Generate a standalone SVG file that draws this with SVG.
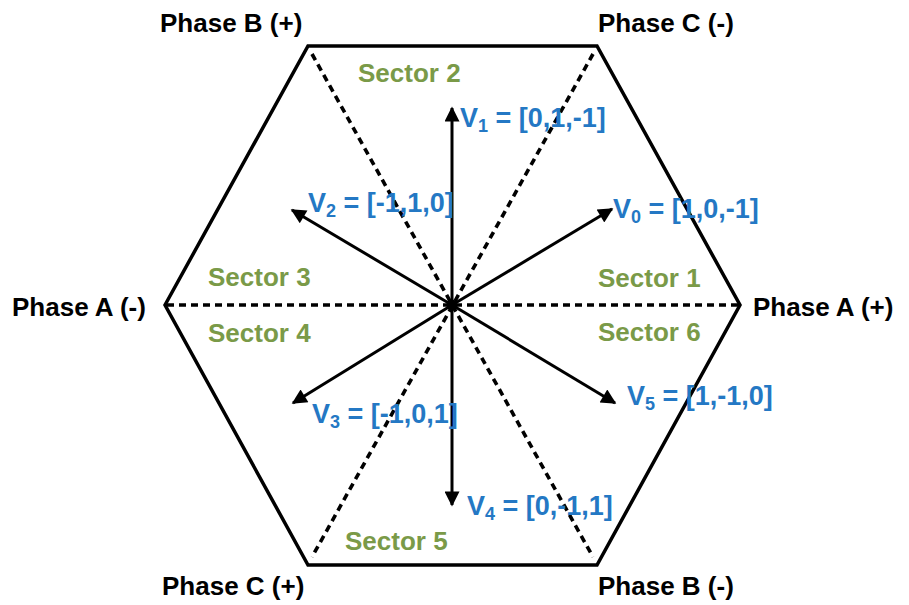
<svg xmlns="http://www.w3.org/2000/svg" width="909" height="605" viewBox="0 0 909 605">
<defs>
<marker id="ah" viewBox="0 0 10 10" refX="9" refY="5" markerWidth="6" markerHeight="5" markerUnits="strokeWidth" orient="auto">
<path d="M0,0 L10,5 L0,10 z" fill="#000"/>
</marker>
<style>
.hex{fill:none;stroke:#000;stroke-width:3.5;stroke-linejoin:miter}
.dash{fill:none;stroke:#000;stroke-width:3.6;stroke-dasharray:7 5}
.vec{stroke:#000;stroke-width:3;marker-end:url(#ah)}
.phase{font-family:"Liberation Sans",Arial,sans-serif;font-weight:bold;font-size:26px;fill:#000}
.sector{font-family:"Liberation Sans",Arial,sans-serif;font-weight:bold;font-size:26px;fill:#7A9A48}
.vl{font-family:"Liberation Sans",Arial,sans-serif;font-weight:bold;font-size:27px;fill:#2478C4}
.sub{font-size:18px}
</style>
</defs>
<rect width="909" height="605" fill="#fff"/>
<g id="hexagon">
<polygon class="hex" points="165,305 308,46 597,46 740,305 597,565 308,565"/>
</g>
<g id="connectors">
<line class="dash" x1="167" y1="305" x2="738" y2="305"/>
<line class="dash" x1="312" y1="54" x2="593" y2="557"/>
<line class="dash" x1="593" y1="54" x2="312" y2="557"/>
<line class="vec" x1="452" y1="305" x2="452" y2="108"/>
<line class="vec" x1="452" y1="305" x2="452" y2="505"/>
<line class="vec" x1="452" y1="305" x2="612" y2="209"/>
<line class="vec" x1="452" y1="305" x2="292" y2="210"/>
<line class="vec" x1="452" y1="305" x2="293" y2="403"/>
<line class="vec" x1="452" y1="305" x2="615" y2="403"/>
<circle cx="452" cy="305" r="5.5" fill="#000"/>
</g>
<g id="phase-labels">
<text class="phase" x="160" y="32">Phase B (+)</text>
<text class="phase" x="598" y="32">Phase C (-)</text>
<text class="phase" x="12" y="316">Phase A (-)</text>
<text class="phase" x="753" y="316">Phase A (+)</text>
<text class="phase" x="162" y="595">Phase C (+)</text>
<text class="phase" x="598" y="595">Phase B (-)</text>
</g>
<g id="sector-labels">
<text class="sector" x="358" y="82">Sector 2</text>
<text class="sector" x="208" y="286">Sector 3</text>
<text class="sector" x="208" y="342">Sector 4</text>
<text class="sector" x="598" y="287">Sector 1</text>
<text class="sector" x="598" y="341">Sector 6</text>
<text class="sector" x="345" y="550">Sector 5</text>
</g>
<g id="vector-labels">
<text class="vl" x="460" y="127">V<tspan class="sub" dy="5">1</tspan><tspan dy="-5"> = [0,1,-1]</tspan></text>
<text class="vl" x="308" y="212">V<tspan class="sub" dy="5">2</tspan><tspan dy="-5"> = [-1,1,0]</tspan></text>
<text class="vl" x="613" y="218">V<tspan class="sub" dy="5">0</tspan><tspan dy="-5"> = [1,0,-1]</tspan></text>
<text class="vl" x="312" y="423">V<tspan class="sub" dy="5">3</tspan><tspan dy="-5"> = [-1,0,1]</tspan></text>
<text class="vl" x="627" y="405">V<tspan class="sub" dy="5">5</tspan><tspan dy="-5"> = [1,-1,0]</tspan></text>
<text class="vl" x="467" y="515">V<tspan class="sub" dy="5">4</tspan><tspan dy="-5"> = [0,-1,1]</tspan></text>
</g>
</svg>
